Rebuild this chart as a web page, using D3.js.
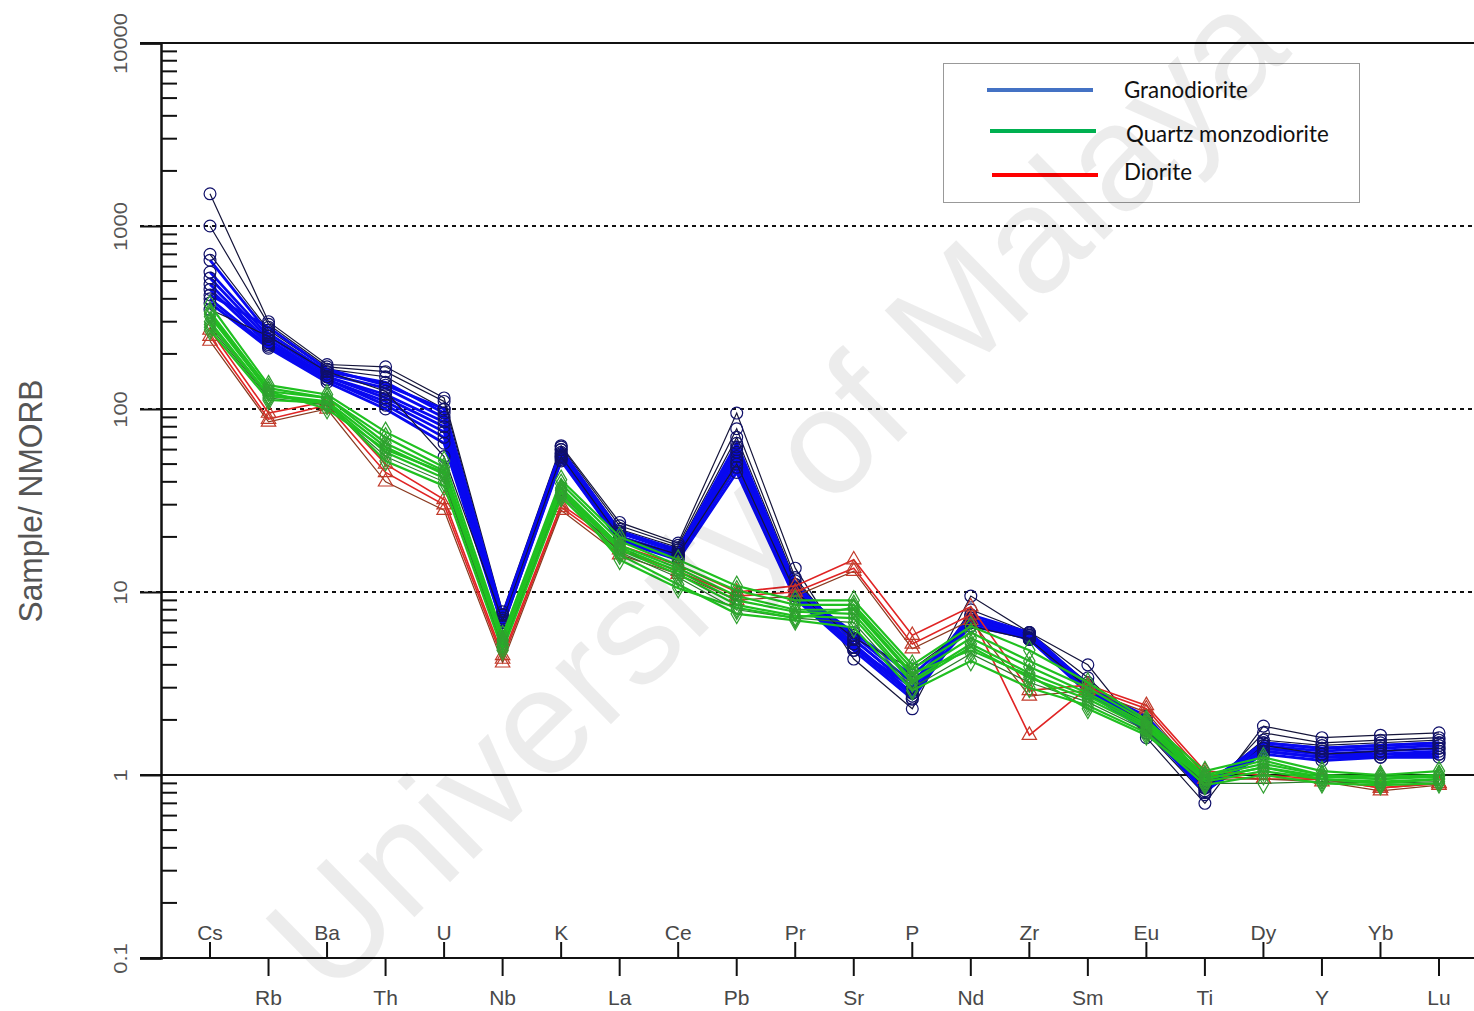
<!DOCTYPE html>
<html><head><meta charset="utf-8">
<script src="https://cdn.jsdelivr.net/npm/d3@7"></script>
<style>body{margin:0;background:#fff}svg{display:block}</style>
</head><body><svg id="c" width="1474" height="1011"></svg>
<script>
// ---------- data ----------
const elements = ["Cs","Rb","Ba","Th","U","Nb","K","La","Ce","Pb","Pr","Sr","P","Nd","Zr","Sm","Eu","Ti","Dy","Y","Yb","Lu"];
const yTickValues = [0.1, 1, 10, 100, 1000, 10000];
const yTickLabels = ["0.1", "1", "10", "100", "1000", "10000"];
const yTitle = "Sample/ NMORB";
const legendLabels = ["Granodiorite", "Quartz monzodiorite", "Diorite"];
const watermark = "University of Malaya";

const granodiorite = [
  [1500,300,175,170,115,7.8,63,24,18.5,95,13.5,4.3,2.3,9.5,6.0,4.0,1.6,0.70,1.85,1.60,1.65,1.70],
  [1000,290,170,160,110,7.5,62,23,18,78,12,4.8,2.6,8.0,6.0,3.4,1.7,0.78,1.70,1.50,1.55,1.60],
  [700,270,165,150,100,7.2,60,22,17.5,70,11.5,5.2,2.8,7.5,5.8,3.2,1.8,0.85,1.55,1.45,1.50,1.55],
  [650,260,160,140,95,7.0,58,21,17,65,11,5.5,3.0,7.2,5.9,3.1,1.9,0.88,1.50,1.40,1.45,1.50],
  [560,250,155,130,90,7.0,57,21,16.5,60,10.5,5.8,3.2,7.0,5.7,3.0,2.0,0.90,1.45,1.35,1.40,1.45],
  [520,240,150,120,85,6.8,56,20,16,58,10.2,6.0,3.5,6.8,5.6,3.0,2.1,0.92,1.40,1.30,1.35,1.40],
  [480,230,150,115,80,6.8,55,20,16,55,10,5.5,3.0,6.5,5.6,2.9,2.0,0.90,1.40,1.30,1.30,1.35],
  [450,225,145,110,75,6.6,54,19.5,15.5,52,9.8,5.2,2.8,6.8,5.5,2.9,1.9,0.88,1.35,1.25,1.30,1.30],
  [400,220,145,105,70,6.5,53,19,15.5,48,9.5,5.0,2.7,7.0,5.5,2.8,1.8,0.85,1.35,1.25,1.25,1.30],
  [380,215,140,100,65,6.5,52,19,15,45,9.2,4.8,2.6,7.2,5.8,2.8,1.75,0.82,1.30,1.20,1.25,1.25],
  [350,250,160,125,55,7.0,55,20,16,50,10,5.6,3.8,6.5,5.5,3.0,1.9,0.85,1.45,1.30,1.35,1.40],
  [420,280,165,135,100,7.5,60,21.5,17,62,11,5.0,3.0,7.5,6.0,3.1,1.8,0.80,1.50,1.40,1.45,1.50]
];
const quartzMonzodiorite = [
  [370,135,120,75,52,5.8,41,20,15,10.8,9.0,9.0,4.0,6.5,4.8,3.2,2.0,1.05,1.25,1.05,1.00,1.05],
  [340,130,115,70,48,5.5,39,19,14,10.2,8.5,8.5,3.8,6.0,4.2,3.0,1.95,1.00,1.20,1.00,0.98,1.00],
  [320,125,115,65,46,5.4,37,18,13.5,9.5,8.0,8.0,3.5,5.6,3.9,2.8,1.9,0.98,1.15,1.00,0.95,1.00],
  [300,120,110,62,44,5.2,36,17.5,13,9.0,7.8,7.6,3.3,5.2,3.6,2.7,1.85,0.95,1.10,0.98,0.95,0.98],
  [290,118,108,58,42,5.0,35,17,12.5,8.5,7.4,7.2,3.2,5.0,3.4,2.6,1.8,0.92,1.05,0.95,0.92,0.95],
  [280,115,105,55,40,5.0,34,16.5,12,8.0,7.2,6.8,3.0,4.6,3.2,2.5,1.75,0.90,0.90,0.92,0.90,0.92],
  [270,112,108,52,38,4.8,33,16,11,7.6,7.0,6.4,2.9,4.2,3.0,2.4,1.7,0.88,1.00,0.90,0.88,0.90],
  [330,125,100,60,45,5.2,36,15,10.5,8.2,7.2,8.2,3.6,4.8,3.5,2.3,1.65,0.95,1.10,0.95,0.90,0.95]
];
const diorite = [
  [270,95,110,50,32,4.5,30,18,14,10,10.8,15,5.8,8.3,2.9,3.1,2.4,1.05,1.00,0.95,0.85,0.90],
  [250,88,105,45,30,4.3,29,17,13,9.5,10,13.5,5.2,7.5,1.65,3.0,2.3,1.00,0.95,0.95,0.85,0.90],
  [235,85,100,40,28,4.1,28,16,12.5,9.0,9.5,13,4.9,7.0,2.7,2.9,2.2,0.95,0.95,0.92,0.82,0.88]
];

// ---------- chart ----------
const svg = d3.select("#c");
const plotLeft = 161, plotTop = 43, plotBottom = 958, plotRight = 1474;
const x = d3.scalePoint().domain(elements).range([210, 1439]);
const y = d3.scaleLog().domain([0.1, 10000]).range([plotBottom, plotTop]);
const axisFont = "Liberation Sans, Arial, sans-serif";

// horizontal reference lines
yTickValues.forEach(v => {
  const dotted = (v === 10 || v === 100 || v === 1000);
  svg.append("line").attr("x1", 140).attr("x2", plotRight)
    .attr("y1", y(v)).attr("y2", y(v))
    .attr("stroke", "#111").attr("stroke-width", 2)
    .attr("stroke-dasharray", dotted ? "4,4" : null);
});

// y axis
const yAxis = d3.axisLeft(y).tickValues(yTickValues).tickSize(21).tickFormat((d, i) => yTickLabels[i]);
const yg = svg.append("g").attr("transform", `translate(${plotLeft},0)`).call(yAxis);
yg.select(".domain").attr("stroke", "#111").attr("stroke-width", 2.5);
yg.selectAll(".tick line").attr("stroke", "#111").attr("stroke-width", 2);
yg.selectAll(".tick text")
  .attr("x", 0).attr("dy", 0)
  .attr("transform", "translate(-40,0) rotate(-90)")
  .attr("text-anchor", "middle").attr("dominant-baseline", "central")
  .attr("font-family", axisFont).attr("font-size", 18).attr("fill", "#555")
  .each(function () {
    const w = this.getComputedTextLength();
    d3.select(this).attr("textLength", w * 1.22).attr("lengthAdjust", "spacingAndGlyphs");
  });

// minor ticks
const minor = [];
for (let e = -1; e < 4; e++) for (let k = 2; k <= 9; k++) minor.push(k * Math.pow(10, e));
svg.append("g").selectAll("line").data(minor.concat(yTickValues)).join("line")
  .attr("x1", plotLeft).attr("x2", plotLeft + 16)
  .attr("y1", d => y(d)).attr("y2", d => y(d))
  .attr("stroke", "#111").attr("stroke-width", 2);

// x axis ticks (alternating up / down)
const xg = svg.append("g");
elements.forEach((el, i) => {
  const up = i % 2 === 0;
  xg.append("line").attr("x1", x(el)).attr("x2", x(el))
    .attr("y1", plotBottom).attr("y2", up ? plotBottom - 16 : plotBottom + 18)
    .attr("stroke", "#111").attr("stroke-width", 2);
  xg.append("text").attr("x", x(el)).attr("y", up ? plotBottom - 18 : plotBottom + 47)
    .attr("text-anchor", "middle")
    .attr("font-family", axisFont).attr("font-size", 21)
    .attr("fill", "#484848").text(el);
});

// y title
svg.append("text").attr("transform", "translate(30,501) rotate(-90)")
  .attr("text-anchor", "middle").attr("dominant-baseline", "central")
  .attr("font-family", axisFont).attr("font-size", 33)
  .attr("textLength", 243).attr("lengthAdjust", "spacingAndGlyphs")
  .attr("fill", "#555").text(yTitle);

// data
const line = d3.line().x((d, i) => x(elements[i])).y(d => y(d));
function drawGroup(samples, opt) {
  const g = svg.append("g");
  samples.forEach((s, si) => {
    const dark = opt.darkIdx.includes(si);
    g.append("path").attr("d", line(s)).attr("fill", "none")
      .attr("stroke", dark ? opt.darkLine : opt.line)
      .attr("stroke-width", dark ? 1.2 : opt.lw);
  });
  samples.forEach((s, si) => {
    g.append("g").selectAll("path").data(s).join("path")
      .attr("transform", (d, i) => `translate(${x(elements[i])},${y(d)})`)
      .attr("d", d3.symbol().type(opt.symbol).size(opt.size))
      .attr("fill", "none").attr("stroke", opt.mark).attr("stroke-width", 1.2);
  });
}
drawGroup(granodiorite, {line: "#0808f0", darkLine: "#15153a", lw: 2.8, darkIdx: [0, 1, 2, 10], symbol: d3.symbolCircle, size: 110, mark: "#10106a"});
drawGroup(diorite, {line: "#e02424", darkLine: "#8a3a20", lw: 1.6, darkIdx: [2], symbol: d3.symbolTriangle, size: 90, mark: "#c23a2a"});
drawGroup(quartzMonzodiorite, {line: "#20c020", darkLine: "#2a7a2a", lw: 2.2, darkIdx: [5], symbol: d3.symbolDiamond, size: 110, mark: "#30a030"});

// legend
const lg = svg.append("g");
lg.append("rect").attr("x", 943.5).attr("y", 63.5).attr("width", 416).attr("height", 139)
  .attr("fill", "#fff").attr("stroke", "#999").attr("stroke-width", 1);
const legColors = ["#4472c4", "#00b050", "#ff0000"];
const legY = [90, 131, 175];
const legTY = [98, 142, 180];
const legX = [987, 990, 992];
const legTX = [1124, 1126, 1124];
legendLabels.forEach((lab, i) => {
  lg.append("line").attr("x1", legX[i]).attr("x2", legX[i] + 106)
    .attr("y1", legY[i]).attr("y2", legY[i]).attr("stroke", legColors[i]).attr("stroke-width", 4);
  lg.append("text").attr("x", legTX[i]).attr("y", legTY[i])
    .attr("font-family", "Lato, Open Sans, sans-serif").attr("font-size", 22.3)
    .attr("fill", "#111").text(lab);
});

// watermark (overlays everything, very light)
svg.append("text")
  .attr("transform", "translate(775,490) rotate(-44.5)")
  .attr("text-anchor", "middle").attr("dominant-baseline", "central")
  .attr("font-family", axisFont)
  .attr("font-size", 150).attr("fill", "#000").attr("fill-opacity", 0.075)
  .text(watermark);
</script></body></html>
